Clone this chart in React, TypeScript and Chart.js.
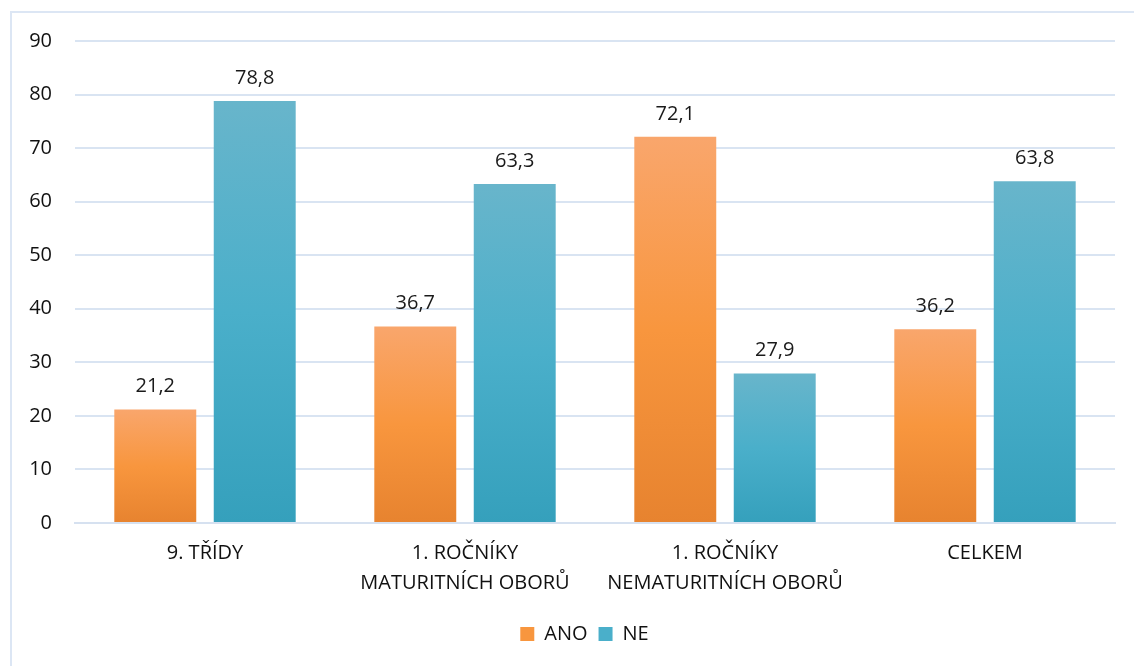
import React, { useEffect, useRef } from "react";
import { Chart, registerables } from "chart.js";

Chart.register(...registerables);

const categories: string[][] = [
  ["9. TŘÍDY"],
  ["1. ROČNÍKY", "MATURITNÍCH OBORŮ"],
  ["1. ROČNÍKY", "NEMATURITNÍCH OBORŮ"],
  ["CELKEM"],
];
const seriesNames = ["ANO", "NE"];
const anoValues = [21.2, 36.7, 72.1, 36.2];
const neValues = [78.8, 63.3, 27.9, 63.8];
const yTicksMax = 90;
const yTickStep = 10;

const FONT = "'Open Sans', Lato, sans-serif";
const FS = 20;

const orangeStops = ["#F9A66C", "#F8963E", "#E7832F"];
const blueStops = ["#68B5CB", "#4AAFCA", "#35A0BC"];

function gradientFor(stops: string[]) {
  return (context: any) => {
    const chart = context.chart;
    if (context.type !== "data" || !chart.chartArea) return stops[1];
    const y = chart.scales.y;
    const v = context.raw as number;
    const top = y.getPixelForValue(v);
    const base = y.getPixelForValue(0);
    if (!isFinite(top) || !isFinite(base) || top === base) return stops[1];
    const g = chart.ctx.createLinearGradient(0, top, 0, base);
    g.addColorStop(0, stops[0]);
    g.addColorStop(0.5, stops[1]);
    g.addColorStop(1, stops[2]);
    return g;
  };
}

const dataLabels = {
  id: "dataLabels",
  afterDatasetsDraw(chart: any) {
    const ctx = chart.ctx;
    ctx.save();
    ctx.font = `${FS}px ${FONT}`;
    ctx.fillStyle = "#1a1a1a";
    ctx.textAlign = "center";
    ctx.textBaseline = "middle";
    chart.data.datasets.forEach((ds: any, i: number) => {
      const meta = chart.getDatasetMeta(i);
      meta.data.forEach((el: any, j: number) => {
        const v = ds.data[j] as number;
        ctx.fillText(v.toFixed(1).replace(".", ","), el.x, el.y - 23);
      });
    });
    ctx.restore();
  },
};

const legendShift = {
  id: "legendShift",
  afterLayout(chart: any) {
    const lg = chart.legend;
    if (!lg) return;
    const dx = 27;
    lg.left += dx;
    lg.right += dx;
    if (lg.legendHitBoxes) lg.legendHitBoxes.forEach((h: any) => (h.left += dx));
  },
};

export default function App() {
  const ref = useRef<HTMLCanvasElement>(null);
  useEffect(() => {
    if (!ref.current) return;
    const chart = new Chart(ref.current, {
      type: "bar",
      data: {
        labels: categories,
        datasets: [
          { label: seriesNames[0], data: anoValues, backgroundColor: gradientFor(orangeStops) as any },
          { label: seriesNames[1], data: neValues, backgroundColor: gradientFor(blueStops) as any },
        ],
      },
      options: {
        animation: false,
        responsive: false,
        maintainAspectRatio: false,
        layout: { padding: { left: 0, right: 19, top: 41, bottom: 12 } },
        datasets: {
          bar: { categoryPercentage: 0.765, barPercentage: 0.824 },
        },
        scales: {
          x: {
            grid: { display: false, drawTicks: false },
            border: { display: true, color: "#D6E1F0", width: 2 },
            ticks: {
              font: { family: FONT, size: FS, lineHeight: 1.5 },
              color: "#111111",
              padding: 15,
              maxRotation: 0,
              autoSkip: false,
            },
          },
          y: {
            min: 0,
            max: yTicksMax,
            afterFit: (scale: any) => {
              scale.width = 75;
            },
            grid: { color: "#D9E4F2", lineWidth: 2, drawTicks: false },
            border: { display: false },
            ticks: {
              stepSize: yTickStep,
              font: { family: FONT, size: FS },
              color: "#111111",
              padding: 23,
            },
          },
        },
        plugins: {
          legend: {
            position: "bottom",
            labels: {
              font: { family: FONT, size: FS },
              color: "#111111",
              boxWidth: 14,
              boxHeight: 14,
              padding: 11,
              generateLabels: (chart: any) =>
                chart.data.datasets.map((ds: any, i: number) => ({
                  text: ds.label,
                  fillStyle: i === 0 ? orangeStops[1] : blueStops[1],
                  strokeStyle: "rgba(0,0,0,0)",
                  lineWidth: 0,
                  hidden: false,
                  datasetIndex: i,
                  fontColor: "#111111",
                })),
            },
          },
          tooltip: { enabled: false },
        },
      },
      plugins: [dataLabels, legendShift],
    });
    return () => chart.destroy();
  }, []);

  return (
    <div style={{ position: "fixed", left: 0, top: 0, width: 1134, height: 666, background: "#fff", overflow: "hidden" }}>
      <div
        style={{
          position: "absolute",
          left: 10,
          top: 11,
          width: 1200,
          height: 700,
          border: "2px solid #DCE6F4",
          boxSizing: "border-box",
        }}
      />
      <canvas ref={ref} width={1134} height={666} style={{ position: "absolute", left: 0, top: 0 }} />
    </div>
  );
}
